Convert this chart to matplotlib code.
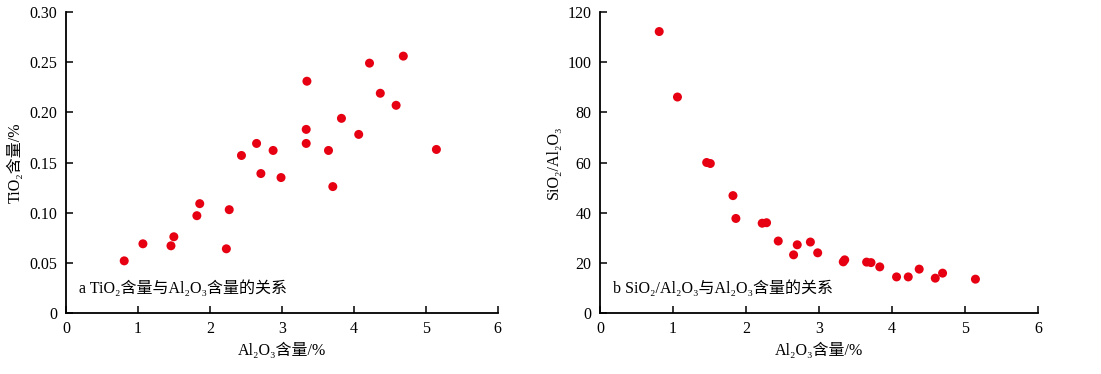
"""
TiO2 and SiO2/Al2O3 vs Al2O3 content scatter plots.
"""
import matplotlib
matplotlib.use("Agg")
import matplotlib.pyplot as plt

plt.rcParams["font.family"] = ["Liberation Serif", "Noto Sans CJK SC"]

# -- data ----------------------------------------------------------------------
al2o3_a = [0.81, 1.07, 1.46, 1.50, 1.82, 1.86, 2.23, 2.27, 2.44, 2.65, 2.71,
           2.88, 2.99, 3.34, 3.34, 3.35, 3.65, 3.71, 3.83, 4.07, 4.22, 4.37,
           4.59, 4.69, 5.15]
tio2_a = [0.052, 0.069, 0.067, 0.076, 0.097, 0.109, 0.064, 0.103, 0.157,
          0.169, 0.139, 0.162, 0.135, 0.183, 0.169, 0.231, 0.162, 0.126,
          0.194, 0.178, 0.249, 0.219, 0.207, 0.256, 0.163]

al2o3_b = [0.81, 1.06, 1.46, 1.51, 1.82, 1.86, 2.22, 2.28, 2.44, 2.65, 2.70,
           2.88, 2.98, 3.33, 3.35, 3.65, 3.71, 3.83, 4.06, 4.22, 4.37, 4.59,
           4.69, 5.14]
ratio_b = [112.2, 86.1, 60.0, 59.6, 46.8, 37.7, 35.8, 36.0, 28.7, 23.2, 27.2,
           28.3, 24.0, 20.4, 21.2, 20.3, 20.1, 18.4, 14.4, 14.4, 17.5, 13.9,
           15.9, 13.5]

RED = "#e60012"
FS = 11.5

fig = plt.figure(figsize=(11.01, 3.74), dpi=100)
ax1 = fig.add_axes([0.0599, 0.163, 0.392, 0.805])
ax2 = fig.add_axes([0.545, 0.163, 0.398, 0.805])


def style(ax):
    for s in ("top", "right"):
        ax.spines[s].set_visible(False)
    for s in ("left", "bottom"):
        ax.spines[s].set_linewidth(1.3)
        ax.spines[s].set_color("black")
    ax.tick_params(direction="in", length=5, width=1.1, labelsize=FS,
                   pad=6)
    ax.set_xlim(0, 6)
    ax.set_xticks(range(0, 7))


# -- panel a -------------------------------------------------------------------
style(ax1)
ax1.scatter(al2o3_a, tio2_a, s=42, color=RED, edgecolors="none", zorder=3,
            clip_on=False)
ax1.set_ylim(0, 0.30)
ax1.set_yticks([0, 0.05, 0.10, 0.15, 0.20, 0.25, 0.30])
ax1.set_yticklabels(["0", "0.05", "0.10", "0.15", "0.20", "0.25", "0.30"])
ax1.set_xlabel("Al₂O₃含量/%", fontsize=FS, labelpad=4)
ax1.set_ylabel("TiO₂含量/%", fontsize=FS, labelpad=4)
ax1.text(0.03, 0.08, "a TiO₂含量与Al₂O₃含量的关系",
         transform=ax1.transAxes, fontsize=FS, va="center")

# -- panel b -------------------------------------------------------------------
style(ax2)
ax2.scatter(al2o3_b, ratio_b, s=42, color=RED, edgecolors="none", zorder=3,
            clip_on=False)
ax2.set_ylim(0, 120)
ax2.set_yticks(range(0, 121, 20))
ax2.set_xlabel("Al₂O₃含量/%", fontsize=FS, labelpad=4)
ax2.set_ylabel("SiO₂/Al₂O₃", fontsize=FS, labelpad=4)
ax2.text(0.03, 0.08, "b SiO₂/Al₂O₃与Al₂O₃含量的关系",
         transform=ax2.transAxes, fontsize=FS, va="center")

fig.savefig("out.png", dpi=100, facecolor="white")
plt.close(fig)
